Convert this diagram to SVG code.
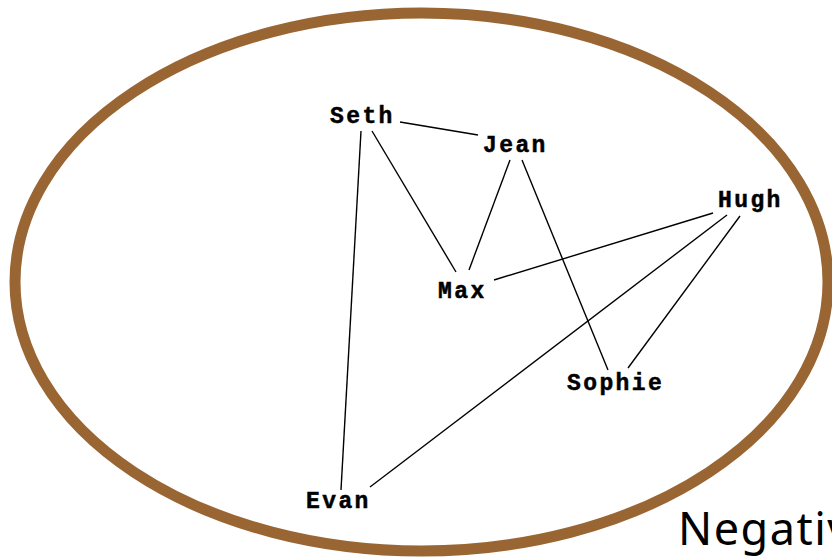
<svg xmlns="http://www.w3.org/2000/svg" width="832" height="557" viewBox="0 0 832 557">
<style>
.n{font-family:"Liberation Mono","DejaVu Sans Mono",monospace;font-weight:bold;font-size:23px;letter-spacing:2.4px;fill:#000;stroke:#000;stroke-width:0.5}
.e{stroke:#000;stroke-width:1.4;fill:none}
</style>
<rect width="832" height="557" fill="#fff"/>
<ellipse id="boundary" cx="421.5" cy="282" rx="406.5" ry="269" fill="none" stroke="#996633" stroke-width="11"/>
<g id="connectors">
<line class="e" x1="400" y1="122" x2="478" y2="135"/>
<line class="e" x1="361" y1="131" x2="341" y2="490"/>
<line class="e" x1="372" y1="131" x2="456" y2="272"/>
<line class="e" x1="510" y1="160" x2="469" y2="270"/>
<line class="e" x1="522" y1="160" x2="608" y2="370"/>
<line class="e" x1="713" y1="213" x2="494" y2="280"/>
<line class="e" x1="727" y1="215" x2="370" y2="487"/>
<line class="e" x1="740" y1="216" x2="628" y2="368"/>
</g>
<g id="node-seth"><text class="n" x="330" y="123">Seth</text></g>
<g id="node-jean"><text class="n" x="483" y="152">Jean</text></g>
<g id="node-max"><text class="n" x="438" y="298">Max</text></g>
<g id="node-hugh"><text class="n" x="718" y="207">Hugh</text></g>
<g id="node-sophie"><text class="n" x="567" y="390">Sophie</text></g>
<g id="node-evan"><text class="n" x="306" y="508">Evan</text></g>
<text x="678" y="545" font-family="'Noto Sans','DejaVu Sans',sans-serif" font-size="45" letter-spacing="1.5" fill="#000">Negativ</text>
</svg>
